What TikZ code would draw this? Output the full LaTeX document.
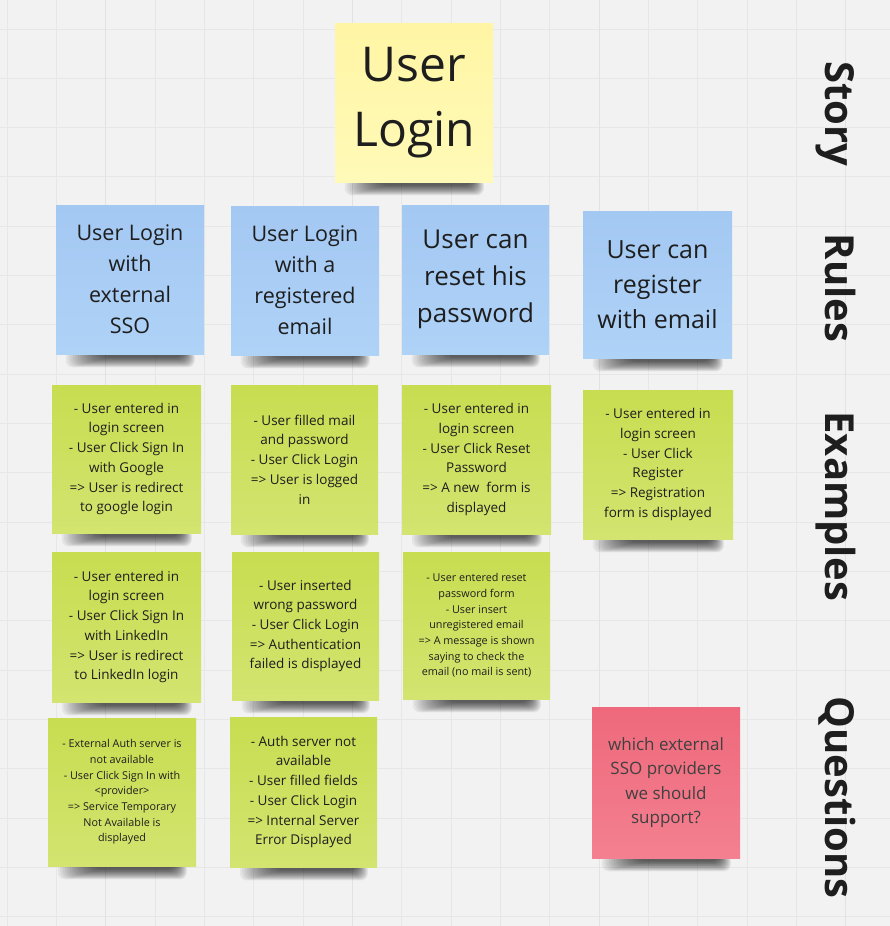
\documentclass[tikz,border=0pt]{standalone}
\usepackage{fontspec}
\setmainfont{Open Sans}
\usetikzlibrary{calc}
\definecolor{bgc}{HTML}{F2F2F2}
\definecolor{gridc}{HTML}{E7E7E7}
\definecolor{gridmaj}{HTML}{E2E2E2}
\definecolor{txt}{HTML}{1E1E1E}
\definecolor{yelT}{HTML}{FFF5A4}
\definecolor{yelB}{HTML}{FFFAB8}
\definecolor{bluT}{HTML}{A3C8F2}
\definecolor{bluB}{HTML}{AFD2F7}
\definecolor{grnT}{HTML}{C8DD50}
\definecolor{grnB}{HTML}{D3E470}
\definecolor{redT}{HTML}{EE697B}
\definecolor{redB}{HTML}{F38090}
\pgfdeclarelayer{gridlayer}
\pgfdeclarelayer{shadelayer}
\pgfsetlayers{gridlayer,shadelayer,main}
\begin{document}
\begin{tikzpicture}[x=1pt,y=-1pt,
  note/.style={rectangle, inner sep=0pt, align=center, text=txt, minimum width=148pt, minimum height=148pt},
  yel/.style={note, top color=yelT, bottom color=yelB},
  blu/.style={note, top color=bluT, bottom color=bluB},
  grn/.style={note, top color=grnT, bottom color=grnB},
  rdn/.style={note, top color=redT, bottom color=redB, text=txt!85},
  bigf/.style={font=\fontsize{48}{65}\selectfont},
  rulef/.style={font=\fontsize{21.5}{31}\selectfont},
  rulebf/.style={font=\fontsize{26}{36.7}\selectfont},
  exf/.style={font=\fontsize{13.5}{19.7}\selectfont},
  exsf/.style={font=\fontsize{10.8}{15.7}\selectfont},
  qf/.style={font=\fontsize{17}{24.2}\selectfont},
  lab/.style={font=\bfseries\fontsize{40}{48}\selectfont, text=txt, rotate=-90, anchor=base, inner sep=0pt}
]
\useasboundingbox (0,0) rectangle (890,926);
\begin{pgfonlayer}{gridlayer}
\fill[bgc] (0,0) rectangle (890,926);
\foreach \k in {0,...,17} \draw[gridc, line width=1pt] ({7+49.35*\k},0) -- ({7+49.35*\k},926);
\foreach \k in {0,...,18} \draw[gridc, line width=1pt] (0,{29+49.33*\k}) -- (890,{29+49.33*\k});
\foreach \k in {2,7,12,17} \draw[gridmaj, line width=1pt] ({7+49.35*\k},0) -- ({7+49.35*\k},926);
\end{pgfonlayer}

% Story
\node[yel, bigf, minimum width=158pt, minimum height=159pt] (story) at (414,102.5) {User\\Login};

% Rules
\node[blu, rulef, minimum width=148pt, minimum height=149pt] (r1) at (130,279.5) {User Login\\with\\external\\SSO};
\node[blu, rulef, minimum width=148pt, minimum height=149pt] (r2) at (305,280.5) {User Login\\with a\\registered\\email};
\node[blu, rulebf, minimum width=147pt, minimum height=149pt] (r3) at (475.5,279.5) {User can\\reset his\\password};
\node[blu, font=\fontsize{25}{35}\selectfont, minimum width=149pt, minimum height=147pt] (r4) at (657.5,284.5) {User can\\register\\with email};

% Examples row 1
\node[grn, exf, minimum width=149pt] (e1) at (126.5,459) {- User entered in\\login screen\\- User Click Sign In\\with Google\\=> User is redirect\\to google login};
\node[grn, exf, minimum width=147pt, minimum height=149pt] (e2) at (304.5,459.5) {- User filled mail\\and password\\- User Click Login\\=> User is logged\\in};
\node[grn, exf, minimum width=149pt, minimum height=149pt] (e3) at (476.5,459.5) {- User entered in\\login screen\\- User Click Reset\\Password\\=> A new\ \ form is\\displayed};
\node[grn, exf, minimum width=150pt, minimum height=149pt] (e4) at (658,464.5) {- User entered in\\login screen\\- User Click\\Register\\=> Registration\\form is displayed};

% Examples row 2
\node[grn, exf, minimum width=149pt, minimum height=150pt] (e5) at (126.5,627) {- User entered in\\login screen\\- User Click Sign In\\with LinkedIn\\=> User is redirect\\to LinkedIn login};
\node[grn, exf, minimum width=147pt] (e6) at (305.5,626) {- User inserted\\wrong password\\- User Click Login\\=> Authentication\\failed is displayed};
\node[grn, exsf, minimum width=147pt, minimum height=147pt] (e7) at (476.5,625.5) {- User entered reset\\password form\\- User insert\\unregistered email\\=> A message is shown\\saying to check the\\email (no mail is sent)};

% Examples row 3
\node[grn, exsf, minimum width=148pt] (e8) at (122,792) {- External Auth server is\\not available\\- User Click Sign In with\\<provider>\\=> Service Temporary\\Not Available is\\displayed};
\node[grn, exf, minimum width=147pt, minimum height=150pt] (e9) at (303.5,792) {- Auth server not\\available\\- User filled fields\\- User Click Login\\=> Internal Server\\Error Displayed};

% Question
\node[rdn, qf, minimum width=148pt, minimum height=151pt] (q1) at (666,782.5) {which external\\SSO providers\\we should\\support?};

% Side labels
\node[lab] (lStory) at (825,114) {Story};
\node[lab] (lRules) at (825,288) {Rules};
\node[lab] (lEx) at (825,506.5) {Examples};
\node[lab] (lQ) at (825,797.5) {Questions};

% Shadows
\begin{pgfonlayer}{shadelayer}
\foreach \n in {story,r1,r2,r3,r4,e1,e2,e3,e4,e5,e6,e7,e8,e9,q1} {
  \foreach \i in {0,...,15} {
    \fill[black, opacity=0.055, rounded corners=7pt]
      ($(\n.south west)+({46-2.4*\i},-4)$) rectangle ($(\n.south east)+({-22+0.85*\i},{3+0.68*\i})$);
  }
}
\end{pgfonlayer}
\end{tikzpicture}
\end{document}
